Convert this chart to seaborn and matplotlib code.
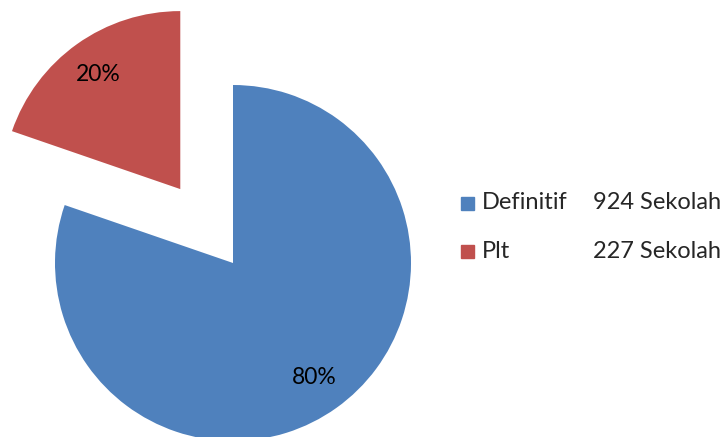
import matplotlib
matplotlib.use("Agg")
import matplotlib.pyplot as plt
import seaborn as sns

# data
labels = ["Definitif", "Plt"]
counts = [924, 227]
count_labels = ["924 Sekolah", "227 Sekolah"]
colors = ["#4F81BD", "#C0504D"]
explode = [0, 0.51]

sns.set_style("white")
plt.rcParams['font.family'] = ['Lato', 'DejaVu Sans']

W, H = 725, 437
fig = plt.figure(figsize=(W / 100, H / 100), dpi=100)
ax = fig.add_axes([0, 0, 1, 1])

wedges, texts, autotexts = ax.pie(
    counts, colors=colors, explode=explode, startangle=90, counterclock=False,
    radius=1, center=(0, 0), autopct=lambda p: f"{p:.0f}%", pctdistance=0.79,
    textprops={"fontsize": 16.5, "color": "black"}, wedgeprops={"linewidth": 0},
    frame=True,
)

# pixel layout: pie centre at (233, 263), radius 178 px
s = 178.0
ax.set_xlim(-233 / s, (W - 233) / s)
ax.set_ylim((263 - H) / s, 263 / s)
ax.set_aspect("auto")
ax.axis("off")

# legend: coloured squares, series name, count
rows_y = [203, 251]
for lab, cnt, col, y in zip(labels, count_labels, colors, rows_y):
    fig.patches.append(plt.Rectangle((461 / W, 1 - (y + 7) / H), 13 / W, 13 / H,
                                     transform=fig.transFigure, color=col))
    fig.text(482 / W, 1 - y / H, lab, ha="left", va="center", fontsize=17)
    fig.text(721 / W, 1 - y / H, cnt, ha="right", va="center", fontsize=17)

fig.savefig("out.png", dpi=100)
